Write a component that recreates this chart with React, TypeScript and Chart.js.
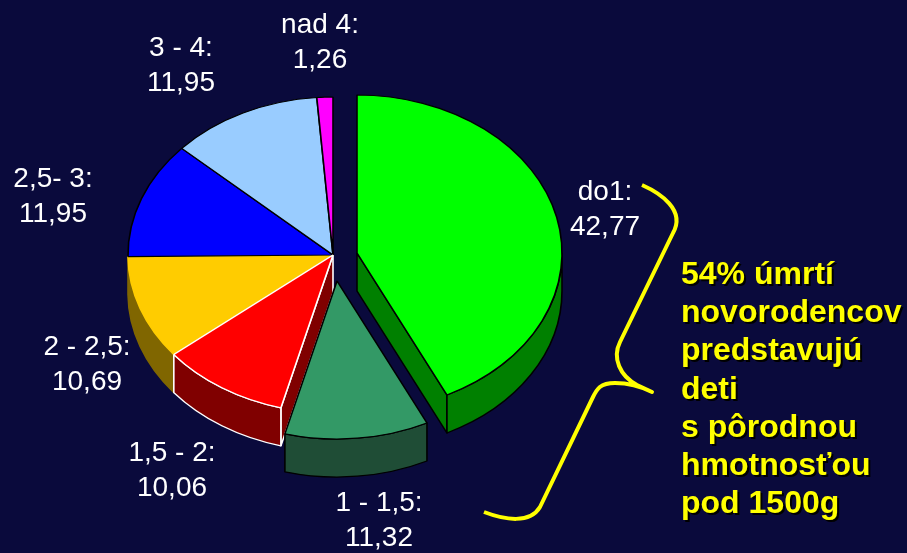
import React, { useEffect, useRef } from "react";
import { Chart, registerables } from "chart.js";

Chart.register(...registerables);

const categories = ["do1:", "1 - 1,5:", "1,5 - 2:", "2 - 2,5:", "2,5- 3:", "3 - 4:", "nad 4:"];
const values = [42.77, 11.32, 10.06, 10.69, 11.95, 11.95, 1.26];
const valueLabels = ["42,77", "11,32", "10,06", "10,69", "11,95", "11,95", "1,26"];
const topColors = ["#00ff00", "#339966", "#ff0000", "#ffcc00", "#0000ff", "#99ccff", "#ff00ff"];
const sideColors = ["#008000", "#1f4d36", "#800000", "#806600", "#000080", "#4d6680", "#800080"];
const edgeColors = ["#000000", "#000000", "#ffffff", "#ffcc00", "#000000", "#000000", "#000000"];
const rimEdgeColors = ["#000000", "#000000", "#ffffff", "#806600", "#000000", "#000000", "#000000"];
const noteLines = ["54% úmrtí", "novorodencov", "predstavujú", "deti", "s pôrodnou", "hmotnosťou", "pod 1500g"];

const BG = "#0a0a3c";
const SQUASH = 158 / 205;
const DEPTH = 38;
const explodeX = [24, 4, 0, 0, 0, 0, 0];
const explodeY = [-2, 26, 0, 0, 0, 0, 0];
const cutEdge = ["end", "", "start", "", "", "", ""];
const labelX = [605, 379, 172, 87, 53, 181, 320];
const labelY = [200, 511, 461, 355, 187, 56, 33];
const drawOrder = [0, 3, 4, 5, 6, 2, 1];
const rimOrder = [0, 3, 2, 1];

const piePlugin = {
  id: "pie3d",
  beforeDraw(chart: any) {
    const { ctx, width, height } = chart;
    ctx.save();
    ctx.fillStyle = BG;
    ctx.fillRect(0, 0, width, height);
    ctx.restore();
  },
  beforeDatasetDraw(chart: any) {
    const { ctx } = chart;
    const arcs = chart.getDatasetMeta(0).data;
    const cx = arcs[0].x;
    const cy = arcs[0].y;
    const d = DEPTH / SQUASH;
    ctx.save();
    ctx.translate(cx, cy);
    ctx.scale(1, SQUASH);
    ctx.translate(-cx, -cy);

    const wallStyle = (i: number) => {
      ctx.fillStyle = sideColors[i];
      ctx.strokeStyle = rimEdgeColors[i];
      ctx.lineWidth = 1.6;
      ctx.lineJoin = "round";
      ctx.fill();
      ctx.stroke();
    };

    rimOrder.forEach((i) => {
      const a = arcs[i];
      const x = a.x + explodeX[i];
      const y = a.y + explodeY[i] / SQUASH;
      const R = a.outerRadius;
      if (cutEdge[i]) {
        const ang = cutEdge[i] === "end" ? a.endAngle : a.startAngle;
        ctx.beginPath();
        ctx.moveTo(x, y);
        ctx.lineTo(x + Math.cos(ang) * R, y + Math.sin(ang) * R);
        ctx.lineTo(x + Math.cos(ang) * R, y + Math.sin(ang) * R + d);
        ctx.lineTo(x, y + d);
        ctx.closePath();
        wallStyle(i);
      }
      const a1 = Math.max(a.startAngle, 0);
      const a2 = Math.min(a.endAngle, Math.PI);
      if (a2 > a1) {
        ctx.beginPath();
        ctx.arc(x, y, R, a1, a2);
        ctx.arc(x, y + d, R, a2, a1, true);
        ctx.closePath();
        wallStyle(i);
      }
    });

    drawOrder.forEach((i) => {
      ctx.save();
      ctx.translate(explodeX[i], explodeY[i] / SQUASH);
      arcs[i].draw(ctx);
      ctx.restore();
    });
    ctx.restore();
    return false;
  },
  afterDraw(chart: any) {
    const { ctx } = chart;
    ctx.save();
    ctx.textBaseline = "alphabetic";

    ctx.font = "28px 'Liberation Sans', Arial, sans-serif";
    ctx.textAlign = "center";
    ctx.fillStyle = "#ffffff";
    categories.forEach((c, i) => {
      ctx.fillText(c, labelX[i], labelY[i]);
      ctx.fillText(valueLabels[i], labelX[i], labelY[i] + 35);
    });

    ctx.strokeStyle = "#ffff00";
    ctx.lineWidth = 4;
    ctx.lineJoin = "round";
    ctx.beginPath();
    ctx.moveTo(642, 185);
    ctx.bezierCurveTo(660, 193, 686, 210, 673, 233);
    ctx.lineTo(620, 342);
    ctx.bezierCurveTo(612, 358, 620, 376, 637, 385);
    ctx.lineTo(652, 392);
    ctx.bezierCurveTo(640, 386, 628, 383, 615, 383);
    ctx.bezierCurveTo(600, 383, 597, 389, 593, 397);
    ctx.lineTo(540, 507);
    ctx.bezierCurveTo(530, 524, 505, 520, 484, 512);
    ctx.stroke();

    ctx.font = "bold 32px 'Liberation Sans', Arial, sans-serif";
    ctx.textAlign = "left";
    noteLines.forEach((t, i) => {
      const y = 284 + i * 38.2;
      ctx.fillStyle = "#000000";
      ctx.fillText(t, 683, y + 2);
      ctx.fillStyle = "#ffff00";
      ctx.fillText(t, 681, y);
    });
    ctx.restore();
  },
};

export default function App() {
  const ref = useRef<HTMLCanvasElement>(null);
  useEffect(() => {
    const chart = new Chart(ref.current as HTMLCanvasElement, {
      type: "pie",
      data: {
        labels: categories,
        datasets: [
          {
            data: values,
            backgroundColor: topColors,
            borderColor: edgeColors,
            borderWidth: 1.6,
            radius: 205,
          } as any,
        ],
      },
      options: {
        responsive: false,
        animation: false,
        events: [],
        layout: { padding: { left: 0, right: 241, top: 0, bottom: 43 } },
        plugins: { legend: { display: false }, tooltip: { enabled: false } },
      },
      plugins: [piePlugin],
    });
    return () => chart.destroy();
  }, []);
  return (
    <canvas
      ref={ref}
      width={907}
      height={553}
      style={{ position: "absolute", left: 0, top: 0, display: "block" }}
    />
  );
}
